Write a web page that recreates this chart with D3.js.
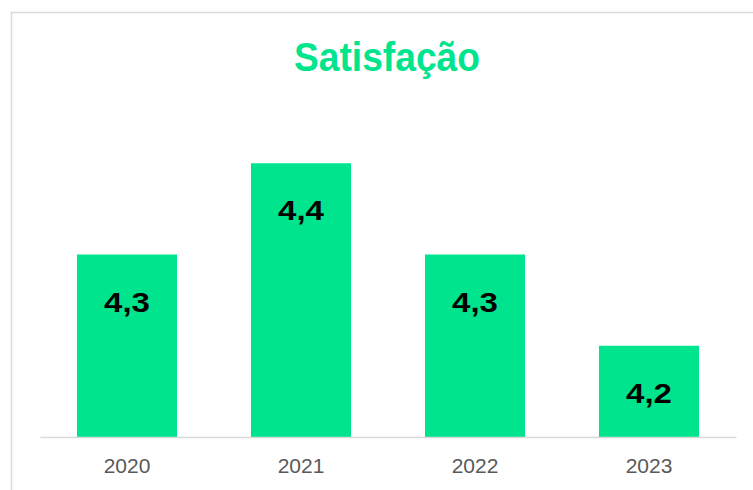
<!DOCTYPE html>
<html><head><meta charset="utf-8">
<script src="https://cdn.jsdelivr.net/npm/d3@7"></script>
<style>body{margin:0;background:#fff;}svg{display:block;}</style>
</head><body>
<script>
const categories = ["2020", "2021", "2022", "2023"];
const values = [4.3, 4.4, 4.3, 4.2];
const valueLabels = ["4,3", "4,4", "4,3", "4,2"];
const title = "Satisfação";

const W = 753, H = 490;
const green = "#00E48E";
const svg = d3.select("body").append("svg").attr("width", W).attr("height", H);

svg.append("rect").attr("x", 11.5).attr("y", 12.5).attr("width", 800).attr("height", 600)
  .attr("fill", "#fff").attr("stroke", "#d9d9d9").attr("stroke-width", 1.5);

svg.append("text").attr("transform", "translate(387,71) scale(0.93,1)").attr("text-anchor", "middle")
  .attr("font-family", "'Liberation Sans', Arial, sans-serif")
  .attr("font-weight", "bold").attr("font-size", 40).attr("fill", green).text(title);

const x = d3.scaleBand().domain(categories).range([40, 736]).paddingInner(0.425).paddingOuter(0.2125);
const y = d3.scaleLinear().domain([4.1, 4.5]).range([437, 72]);

svg.selectAll("rect.bar").data(values).join("rect").attr("class", "bar")
  .attr("x", (d, i) => x(categories[i])).attr("width", x.bandwidth())
  .attr("y", d => y(d)).attr("height", d => y(4.1) - y(d)).attr("fill", green);

const axis = svg.append("g").attr("transform", "translate(0,437)")
  .call(d3.axisBottom(x).tickSize(0).tickPadding(21));
axis.select(".domain").attr("stroke", "#d9d9d9").attr("stroke-width", 1.5);
axis.selectAll("text").attr("font-family", "'Liberation Sans', Arial, sans-serif")
  .attr("font-size", 21).attr("fill", "#595959");

svg.selectAll("text.lbl").data(values).join("text").attr("class", "lbl")
  .attr("transform", (d, i) => `translate(${x(categories[i]) + x.bandwidth() / 2},${y(d) + 57}) scale(1.18,1)`)
  .attr("text-anchor", "middle")
  .attr("font-family", "'Liberation Sans', Arial, sans-serif").attr("font-weight", "bold")
  .attr("font-size", 28).attr("fill", "#000")
  .text((d, i) => valueLabels[i]);
</script>
</body></html>
